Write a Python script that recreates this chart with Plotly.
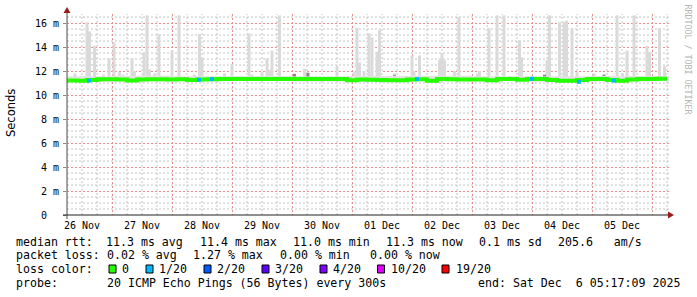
import plotly.graph_objects as go
import pandas as pd

# ---------------- data ----------------
# median RTT (ms), sampled every 4 hours starting 2025-11-26 06:00
median_start = "2025-11-26 06:00"
median_ms = [
    11.20, 11.18, 11.26, 11.31, 11.31, 11.30, 11.20, 11.30, 11.32, 11.32,
    11.30, 11.32, 11.26, 11.30, 11.32, 11.34, 11.34, 11.34, 11.34, 11.33,
    11.33, 11.33, 11.33, 11.34, 11.33, 11.34, 11.33, 11.33, 11.22, 11.30,
    11.27, 11.25, 11.22, 11.22, 11.30, 11.32, 11.18, 11.34, 11.32, 11.30,
    11.30, 11.30, 11.22, 11.34, 11.33, 11.28, 11.34, 11.34, 11.25, 11.18,
    11.18, 11.26, 11.34, 11.34, 11.25, 11.18, 11.30, 11.34, 11.34, 11.35,
    11.35,
]

# smoke band (typical ping spread), daily
smoke_times = ["2025-11-26 06:00", "2025-11-27 00:00", "2025-11-28 00:00", "2025-11-29 00:00",
               "2025-11-30 00:00", "2025-12-01 00:00", "2025-12-02 00:00", "2025-12-03 00:00",
               "2025-12-04 00:00", "2025-12-05 00:00", "2025-12-06 00:00", "2025-12-06 06:48"]
smoke_hi = [11.55, 11.60, 11.55, 11.58, 11.55, 11.58, 11.60, 11.55, 11.55, 11.58, 11.58, 11.58]
smoke_lo = [11.10, 11.12, 11.15, 11.20, 11.12, 11.10, 11.15, 11.15, 11.10, 11.12, 11.15, 11.15]

# smoke spikes (max ping of the interval, ms)
spike_times = [
    "2025-11-26 09:12", "2025-11-26 14:00", "2025-11-26 15:00", "2025-11-26 17:00", "2025-11-26 20:36",
    "2025-11-26 22:48", "2025-11-27 00:48", "2025-11-27 03:00", "2025-11-27 04:24", "2025-11-27 08:00",
    "2025-11-27 09:00", "2025-11-27 12:48", "2025-11-27 14:00", "2025-11-27 15:00", "2025-11-27 17:00",
    "2025-11-27 18:48", "2025-11-28 00:00", "2025-11-28 02:48", "2025-11-28 09:00", "2025-11-28 11:00",
    "2025-11-28 12:00", "2025-11-28 21:00", "2025-11-29 00:00", "2025-11-29 03:36", "2025-11-29 06:48",
    "2025-11-29 08:00", "2025-11-29 12:00", "2025-11-29 14:00", "2025-11-29 15:00", "2025-11-29 16:00",
    "2025-11-29 19:00", "2025-11-30 01:00", "2025-11-30 05:00", "2025-11-30 06:00", "2025-11-30 18:00",
    "2025-12-01 00:48", "2025-12-01 02:00", "2025-12-01 03:00", "2025-12-01 04:48", "2025-12-01 06:48",
    "2025-12-01 08:00", "2025-12-01 10:00", "2025-12-01 11:00", "2025-12-01 17:00", "2025-12-02 00:00",
    "2025-12-02 00:48", "2025-12-02 03:00", "2025-12-02 11:00", "2025-12-02 12:00", "2025-12-02 13:00",
    "2025-12-02 17:00", "2025-12-02 18:48", "2025-12-03 02:12", "2025-12-03 03:00", "2025-12-03 06:48",
    "2025-12-03 10:00", "2025-12-03 12:48", "2025-12-03 14:48", "2025-12-03 19:00", "2025-12-03 19:48",
    "2025-12-04 06:00", "2025-12-04 07:00", "2025-12-04 11:00", "2025-12-04 12:48", "2025-12-04 13:48",
    "2025-12-04 16:00", "2025-12-04 18:00", "2025-12-05 00:48", "2025-12-05 10:00", "2025-12-05 12:12",
    "2025-12-05 14:00", "2025-12-05 15:00", "2025-12-05 16:48", "2025-12-05 22:00", "2025-12-05 23:00",
    "2025-12-06 03:00", "2025-12-06 05:00",
]
spike_tops = [
    11.8, 16.06, 15.3, 14.1, 11.7,
    13.06, 14.4, 11.9, 11.7, 13.06,
    12.0, 13.56, 16.64, 12.14, 11.8,
    15.06, 13.7, 16.64, 11.7, 15.06,
    13.06, 11.8, 12.6, 11.6, 15.14,
    11.7, 11.9, 13.06, 12.1, 13.7,
    16.64, 11.8, 12.2, 11.9, 12.4,
    11.9, 15.6, 12.7, 12.0, 15.14,
    14.8, 13.6, 15.4, 11.8, 13.3,
    12.0, 13.3, 12.9, 13.5, 12.9,
    12.0, 16.5, 11.8, 12.0, 15.56,
    16.64, 16.64, 11.6, 14.56, 13.14,
    12.9, 16.64, 16.06, 16.1, 16.2,
    15.56, 11.9, 11.8, 16.64, 11.8,
    13.7, 11.6, 16.64, 14.1, 13.56,
    15.56, 12.4,
]

# darker smoke blocks
dark_times = ["2025-11-30 01:00", "2025-11-30 06:24", "2025-12-01 17:00", "2025-12-04 05:00", "2025-12-05 04:48"]
dark_tops = [11.75, 11.85, 11.65, 11.7, 11.7]

# 1/20 packet-loss points on the median line
loss_times = ["2025-11-26 14:48", "2025-11-28 10:48", "2025-11-28 16:00", "2025-12-02 02:00",
              "2025-12-04 00:00", "2025-12-04 18:48", "2025-12-05 08:48"]
loss_vals = [11.2, 11.27, 11.32, 11.33, 11.35, 11.1, 11.2]

day_label_times = ["2025-11-26 12:00", "2025-11-27 12:00", "2025-11-28 12:00", "2025-11-29 12:00",
                   "2025-11-30 12:00", "2025-12-01 12:00", "2025-12-02 12:00", "2025-12-03 12:00",
                   "2025-12-04 12:00", "2025-12-05 12:00"]
day_labels = ["26 Nov", "27 Nov", "28 Nov", "29 Nov", "30 Nov",
              "01 Dec", "02 Dec", "03 Dec", "04 Dec", "05 Dec"]

y_tick_vals = [0, 2, 4, 6, 8, 10, 12, 14, 16]
y_tick_text = ["0\u00a0\u00a0", "2 m", "4 m", "6 m", "8 m", "10 m", "12 m", "14 m", "16 m"]

loss_legend = ["0", "1/20", "2/20", "3/20", "4/20", "10/20", "19/20"]
loss_colors = ["#26ff00", "#00b8ff", "#0059ff", "#5e00ff", "#7e00ff", "#dd00ff", "#ff0000"]

# ---------------- layout helpers ----------------
W, H = 697, 297
L, R, T, B = 67, 28, 14, 82
PW, PH = W - L - R, H - T - B
X_RANGE = ["2025-11-26 06:00", "2025-12-06 06:48"]
Y_RANGE = [0, 16.75]


def px(x):
    return (x - L) / PW


def py(y):
    return (H - B - y) / PH


MONO = "DejaVu Sans Mono"
median_times = pd.date_range(median_start, periods=len(median_ms), freq="4h")
bar_w = 1.2 * 3600 * 1000
smoke_base = 11.25

fig = go.Figure()

fig.add_trace(go.Scatter(x=smoke_times, y=smoke_lo, mode="lines", line=dict(width=0, shape="hv"),
                         hoverinfo="skip", showlegend=False))
fig.add_trace(go.Scatter(x=smoke_times, y=smoke_hi, mode="lines", line=dict(width=0, shape="hv"),
                         fill="tonexty", fillcolor="#e2e2e2", hoverinfo="skip", showlegend=False))

fig.add_trace(go.Bar(x=spike_times, y=[t - smoke_base for t in spike_tops], base=smoke_base,
                     width=bar_w, marker=dict(color="#dadada", line=dict(width=0)), showlegend=False))
fig.add_trace(go.Bar(x=dark_times, y=[t - smoke_base for t in dark_tops], base=smoke_base,
                     width=bar_w, marker=dict(color="#8a8a8a", line=dict(width=0)), showlegend=False))

fig.add_trace(go.Scatter(x=median_times, y=median_ms, mode="lines",
                         line=dict(color=loss_colors[0], width=4, shape="hv"), showlegend=False))
fig.add_trace(go.Scatter(x=loss_times, y=loss_vals, mode="markers",
                         marker=dict(symbol="square", size=4, color=loss_colors[1], line=dict(width=0)),
                         showlegend=False))

grid_major = "#eb9090"
grid_minor = "#c4c4c4"
dash = "2px,2px"

fig.update_xaxes(type="date", range=X_RANGE, showticklabels=False, ticks="",
                 tickmode="linear", tick0="2025-11-27", dtick=86400000,
                 showgrid=True, gridcolor=grid_major, griddash=dash, gridwidth=1,
                 zeroline=False, showline=False)
fig.update_yaxes(range=Y_RANGE, tickmode="array", tickvals=y_tick_vals, ticktext=y_tick_text,
                 tickfont=dict(family=MONO, size=10, color="#000"), ticks="outside", ticklen=3,
                 tickcolor="#888", ticklabelstandoff=2,
                 showgrid=True, gridcolor=grid_major, griddash=dash, gridwidth=1,
                 zeroline=False, showline=False)

shapes = []
# minor grid (every 6 h, every 0.5 ms), drawn between gridlines and data
for t in pd.date_range("2025-11-26 06:00", "2025-12-06 06:00", freq="6h"):
    if t.hour == 0:
        continue
    shapes.append(dict(type="line", xref="x", yref="paper", x0=t, x1=t, y0=0, y1=1, layer="between",
                       line=dict(color=grid_minor, width=1, dash=dash)))
for k in range(1, 34):
    v = k * 0.5
    if k % 4 == 0:
        continue
    shapes.append(dict(type="line", xref="paper", yref="y", x0=0, x1=1, y0=v, y1=v, layer="between",
                       line=dict(color=grid_minor, width=1, dash=dash)))

# axes
shapes.append(dict(type="line", xref="paper", yref="paper", x0=px(67), x1=px(67), y0=py(219), y1=py(10),
                   line=dict(color="#505050", width=1)))
shapes.append(dict(type="line", xref="paper", yref="paper", x0=px(63), x1=px(670), y0=py(215), y1=py(215),
                   line=dict(color="#202020", width=1)))
shapes.append(dict(type="path", xref="paper", yref="paper",
                   path=f"M {px(67)} {py(7)} L {px(63.5)} {py(13)} L {px(70.5)} {py(13)} Z",
                   fillcolor="#9b1b1b", line=dict(width=0)))
shapes.append(dict(type="path", xref="paper", yref="paper",
                   path=f"M {px(674)} {py(215)} L {px(668)} {py(211.5)} L {px(668)} {py(218.5)} Z",
                   fillcolor="#9b1b1b", line=dict(width=0)))

annotations = []
for t, lab in zip(day_label_times, day_labels):
    annotations.append(dict(x=t, xref="x", y=py(225), yref="paper", text=lab, showarrow=False,
                            xanchor="center", yanchor="middle", font=dict(family=MONO, size=10, color="#000")))

annotations.append(dict(x=px(11), xref="paper", y=py(113), yref="paper", text="Seconds", textangle=-90,
                        showarrow=False, xanchor="center", yanchor="middle",
                        font=dict(family="DejaVu Sans", size=11.5, color="#000")))
annotations.append(dict(x=px(687.5), xref="paper", y=py(60), yref="paper", text="RRDTOOL / TOBI OETIKER",
                        textangle=90, showarrow=False, xanchor="center", yanchor="middle",
                        font=dict(family=MONO, size=8.3, color="#b4b4b4")))

FS = 11.6


def txt(x, y, s):
    annotations.append(dict(x=px(x), xref="paper", y=py(y), yref="paper", text=s.replace("  ", " \u00a0"),
                            showarrow=False, xanchor="left", yanchor="middle",
                            font=dict(family=MONO, size=FS, color="#000"), borderpad=0))


y1, y2, y3, y4 = 241.5, 255, 269, 282.5
txt(15, y1, "median rtt:")
for s, x in [("11.3 ms avg", 105), ("11.4 ms max", 199), ("11.0 ms min", 292), ("11.3 ms now", 385),
             ("0.1 ms sd", 478), ("205.6   am/s", 557)]:
    txt(x, y1, s)
txt(15, y2, "packet loss:")
for s, x in [("0.02 % avg", 106), ("1.27 % max", 192), ("0.00 % min", 279), ("0.00 % now", 369)]:
    txt(x, y2, s)
txt(15, y3, "loss color:")
box_x = [109, 146, 204, 262, 320, 377.5, 442]
lab_x = [121, 158, 216, 274, 332, 390, 455]
for bx, lx, lab, col in zip(box_x, lab_x, loss_legend, loss_colors):
    shapes.append(dict(type="rect", xref="paper", yref="paper", x0=px(bx), x1=px(bx + 7),
                       y0=py(y3 - 4), y1=py(y3 + 4), fillcolor=col, line=dict(color="#000", width=1)))
    txt(lx, y3, lab)
txt(15, y4, "probe:")
txt(106, y4, "20 ICMP Echo Pings (56 Bytes) every 300s")
txt(477, y4, "end: Sat Dec  6 05:17:09 2025")

fig.update_layout(width=W, height=H, margin=dict(l=L, r=R, t=T, b=B, pad=0),
                  paper_bgcolor="#ffffff", plot_bgcolor="#ffffff", barmode="overlay",
                  shapes=shapes, annotations=annotations, showlegend=False,
                  font=dict(family=MONO, size=10, color="#000"))

fig.write_html("out.html")
